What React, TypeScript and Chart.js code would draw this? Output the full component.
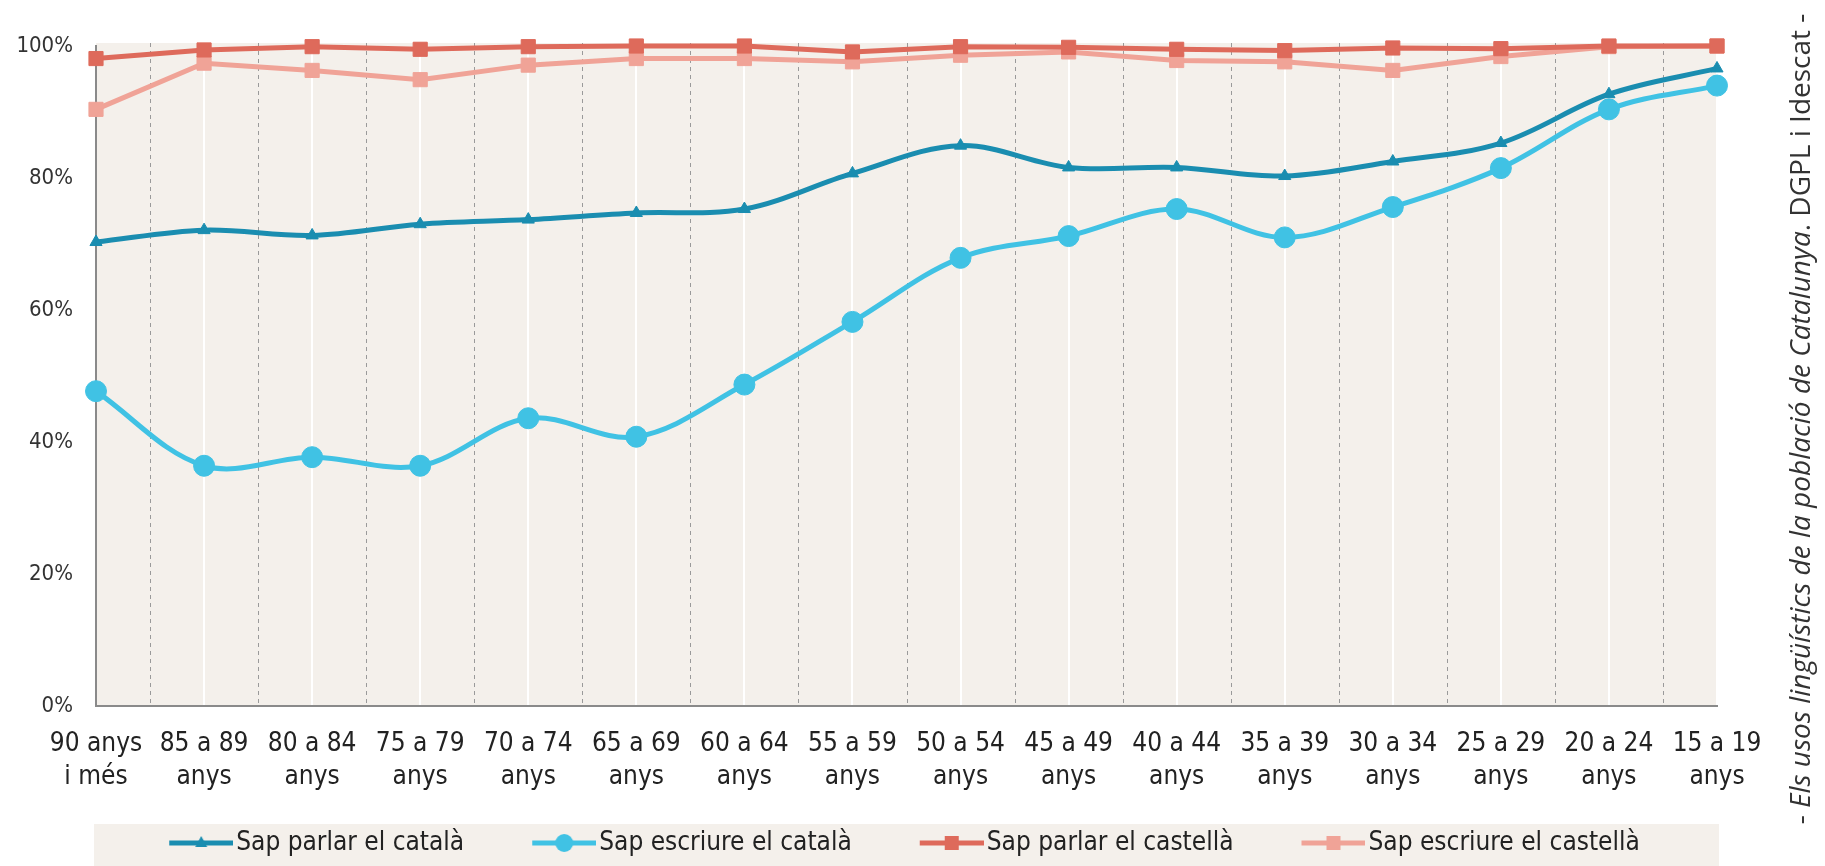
import React, { useEffect, useRef } from "react";
import { Chart, registerables } from "chart.js";

Chart.register(...registerables);

const categories: string[][] = [
  ["90 anys", "i més"],
  ["85 a 89", "anys"],
  ["80 a 84", "anys"],
  ["75 a 79", "anys"],
  ["70 a 74", "anys"],
  ["65 a 69", "anys"],
  ["60 a 64", "anys"],
  ["55 a 59", "anys"],
  ["50 a 54", "anys"],
  ["45 a 49", "anys"],
  ["40 a 44", "anys"],
  ["35 a 39", "anys"],
  ["30 a 34", "anys"],
  ["25 a 29", "anys"],
  ["20 a 24", "anys"],
  ["15 a 19", "anys"],
];

const parlarCatala = [70.3, 72.1, 71.3, 73.0, 73.7, 74.7, 75.3, 80.7, 84.9, 81.6, 81.6, 80.3, 82.5, 85.3, 92.7, 96.6];
const escriureCatala = [47.7, 36.4, 37.7, 36.4, 43.6, 40.8, 48.7, 58.2, 67.9, 71.2, 75.3, 71.0, 75.6, 81.5, 90.4, 94.0];
const parlarCastella = [98.1, 99.4, 99.9, 99.5, 99.9, 100, 100, 99.1, 99.9, 99.8, 99.5, 99.3, 99.7, 99.6, 100, 100];
const escriureCastella = [90.4, 97.4, 96.3, 94.9, 97.1, 98.1, 98.1, 97.6, 98.6, 99.1, 97.8, 97.6, 96.3, 98.4, 99.9, 100];

const seriesNames = [
  "Sap parlar el català",
  "Sap escriure el català",
  "Sap parlar el castellà",
  "Sap escriure el castellà",
];
const yTicks = [0, 20, 40, 60, 80, 100];

const sourcePrefix = "- ";
const sourceItalic = "Els usos lingüístics de la població de Catalunya";
const sourceSuffix = ". DGPL i Idescat -";

const COLORS = ["#1a8db0", "#40c2e4", "#de6a5b", "#f0a397"];
const STYLES = ["triangle", "circle", "rect", "rect"];
const RADII = [7, 10.5, 10, 10];
const NARROW = "'DejaVu Sans Condensed', 'DejaVu Sans', sans-serif";

function makeLegendMarker(color: string, style: string): HTMLCanvasElement {
  const c = document.createElement("canvas");
  c.width = 136;
  c.height = 24;
  const ctx = c.getContext("2d")!;
  const cy = 12;
  ctx.strokeStyle = color;
  ctx.lineWidth = 5;
  ctx.beginPath();
  ctx.moveTo(72, cy);
  ctx.lineTo(136, cy);
  ctx.stroke();
  ctx.fillStyle = color;
  const cx = 104;
  ctx.beginPath();
  if (style === "triangle") {
    ctx.moveTo(cx, cy - 7);
    ctx.lineTo(cx + 6, cy + 4);
    ctx.lineTo(cx - 6, cy + 4);
    ctx.closePath();
  } else if (style === "circle") {
    ctx.arc(cx, cy, 9, 0, Math.PI * 2);
  } else {
    ctx.rect(cx - 7, cy - 7, 14, 14);
  }
  ctx.fill();
  return c;
}

const decorPlugin = {
  id: "decor",
  afterLayout(chart: any) {
    const lg = chart.legend;
    if (lg) {
      lg.left += 15;
      lg.right += 15;
    }
  },
  beforeDraw(chart: any) {
    const { ctx, chartArea } = chart;
    ctx.save();
    ctx.fillStyle = "#f4f0eb";
    ctx.fillRect(chartArea.left, chartArea.top - 3, chartArea.right - chartArea.left, chartArea.bottom - chartArea.top + 3);
    const lg = chart.legend;
    if (lg) {
      ctx.fillStyle = "#f4f0eb";
      ctx.fillRect(chartArea.left - 2, lg.top, chartArea.right - chartArea.left + 4, chart.height - lg.top);
    }
    ctx.restore();
  },
  beforeDatasetsDraw(chart: any) {
    const { ctx, chartArea } = chart;
    const x = chart.scales.x;
    ctx.save();
    ctx.strokeStyle = "#9a9a9a";
    ctx.lineWidth = 1;
    ctx.setLineDash([4, 4]);
    for (let i = 0; i < categories.length - 1; i++) {
      const px = Math.round((x.getPixelForValue(i) + x.getPixelForValue(i + 1)) / 2) + 0.5;
      ctx.beginPath();
      ctx.moveTo(px, chartArea.top - 3);
      ctx.lineTo(px, chartArea.bottom);
      ctx.stroke();
    }
    ctx.restore();
  },
  afterDraw(chart: any) {
    const { ctx } = chart;
    ctx.save();
    ctx.translate(1802, 419);
    ctx.rotate(-Math.PI / 2);
    ctx.fillStyle = "#333333";
    ctx.textBaseline = "middle";
    ctx.textAlign = "left";
    const normal = "28px 'Open Sans', sans-serif";
    const italic = "italic 28px 'Open Sans', sans-serif";
    ctx.font = normal;
    const w1 = ctx.measureText(sourcePrefix).width;
    const w3 = ctx.measureText(sourceSuffix).width;
    ctx.font = italic;
    const w2 = ctx.measureText(sourceItalic).width;
    let sx = -(w1 + w2 + w3) / 2;
    ctx.font = normal;
    ctx.fillText(sourcePrefix, sx, 0);
    sx += w1;
    ctx.font = italic;
    ctx.fillText(sourceItalic, sx, 0);
    sx += w2;
    ctx.font = normal;
    ctx.fillText(sourceSuffix, sx, 0);
    ctx.restore();
  },
};

export default function App() {
  const ref = useRef<HTMLCanvasElement | null>(null);
  useEffect(() => {
    if (!ref.current) return;
    const dataSeries = [parlarCatala, escriureCatala, parlarCastella, escriureCastella];
    const markers = COLORS.map((c, i) => makeLegendMarker(c, STYLES[i]));
    const chart = new Chart(ref.current, {
      type: "line",
      data: {
        labels: categories,
        datasets: dataSeries.map((d, i) => ({
          label: seriesNames[i],
          data: d,
          borderColor: COLORS[i],
          backgroundColor: COLORS[i],
          pointBackgroundColor: COLORS[i],
          pointBorderColor: COLORS[i],
          borderWidth: 5,
          pointStyle: STYLES[i] as any,
          pointRadius: RADII[i],
          pointBorderWidth: 1,
          tension: i < 2 ? 0.35 : 0,
          clip: false as any,
        })),
      },
      options: {
        animation: false,
        responsive: true,
        maintainAspectRatio: false,
        layout: { padding: { left: 0, right: 108, top: 46, bottom: 0 } },
        plugins: {
          tooltip: { enabled: false },
          legend: {
            position: "bottom",
            labels: {
              usePointStyle: true,
              pointStyleWidth: 116,
              padding: 6,
              color: "#222222",
              font: { family: NARROW, size: 26, lineHeight: 1.5 },
              generateLabels: () =>
                seriesNames.map((name, i) => ({
                  text: name,
                  pointStyle: markers[i] as any,
                  fillStyle: COLORS[i],
                  strokeStyle: COLORS[i],
                  lineWidth: 0,
                  hidden: false,
                  datasetIndex: i,
                  fontColor: "#222222",
                })),
            },
          },
        },
        scales: {
          x: {
            type: "category",
            offset: false,
            grid: { display: true, color: "#ffffff", lineWidth: 2, drawTicks: false },
            border: { display: true, color: "#8a8a8a", width: 2 },
            ticks: {
              autoSkip: false,
              maxRotation: 0,
              padding: 22,
              color: "#222222",
              font: { family: NARROW, size: 26, lineHeight: 1.27 },
            },
            afterFit: (s: any) => {
              s.height = 118;
            },
          },
          y: {
            min: 0,
            max: 100,
            afterBuildTicks: (s: any) => {
              s.ticks = yTicks.map((v) => ({ value: v }));
            },
            grid: { display: false, drawTicks: false },
            border: { display: true, color: "#8a8a8a", width: 2 },
            ticks: {
              padding: 23,
              color: "#333333",
              font: { family: NARROW, size: 22 },
              callback: (v: any) => v + "%",
            },
            afterFit: (s: any) => {
              s.width = 96;
            },
          },
        },
      },
      plugins: [decorPlugin],
    });
    return () => chart.destroy();
  }, []);
  return (
    <div style={{ position: "fixed", left: 0, top: 0, width: 1825, height: 866, background: "#ffffff" }}>
      <canvas ref={ref} />
    </div>
  );
}
